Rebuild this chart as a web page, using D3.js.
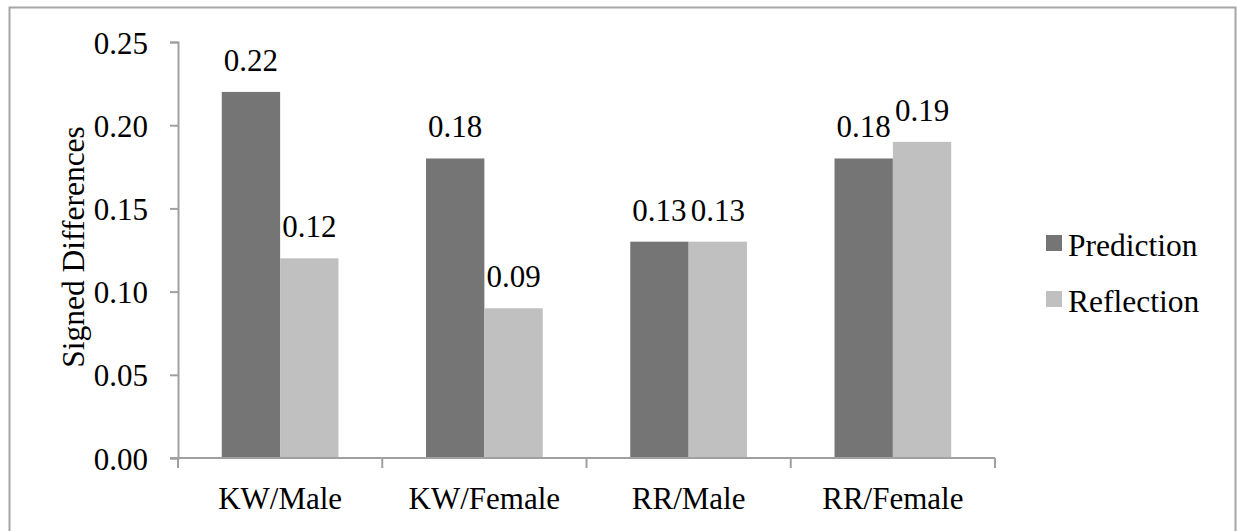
<!DOCTYPE html>
<meta charset="utf-8">
<script src="https://d3js.org/d3.v7.min.js"></script>
<style>
body { margin: 0; background: #fff; }
svg { display: block; font-family: "Liberation Serif", "Times New Roman", serif; }
.axis path, .axis line { stroke: #a0a0a0; stroke-width: 2px; }
.axis text { font-size: 31px; fill: #000; }
.barlabel { font-size: 31px; fill: #000; text-anchor: middle; }
.legend text { font-size: 31.5px; fill: #000; }
</style>
<body>
<div class="chart"></div>
<script>

// chart values
var groups = ["KW/Male", "KW/Female", "RR/Male", "RR/Female"],
    series = ["Prediction", "Reflection"],
    prediction = [0.22, 0.18, 0.13, 0.18],
    reflection = [0.12, 0.09, 0.13, 0.19],
    yTicks = [0, 0.05, 0.10, 0.15, 0.20, 0.25],
    colors = ["#757575", "#c0c0c0"];

var W = 1238, H = 531;
var margin = {top: 42, left: 178, right: 243, bottom: 73};

var svg = d3.select(".chart").append("svg")
    .attr("width", W)
    .attr("height", H);

// outer frame
svg.append("rect")
    .attr("x", 9.5).attr("y", 7.5)
    .attr("width", 1226).attr("height", 530)
    .attr("fill", "none")
    .attr("stroke", "#a6a6a6")
    .attr("stroke-width", 2);

var x = d3.scaleBand()
    .domain(groups)
    .range([margin.left, W - margin.right]);

var xs = d3.scaleBand()
    .domain(series)
    .range([0, x.bandwidth()])
    .paddingOuter(0.75)
    .paddingInner(0);

var y = d3.scaleLinear()
    .domain([0, 0.25])
    .range([H - margin.bottom, margin.top]);

var rows = groups.map(function(g, i) {
  return {group: g, values: [
    {key: "Prediction", value: prediction[i]},
    {key: "Reflection", value: reflection[i]}
  ]};
});

// y axis
var yAxis = svg.append("g")
    .attr("class", "axis")
    .attr("transform", "translate(" + margin.left + ",0)")
    .call(d3.axisLeft(y).tickValues(yTicks).tickFormat(d3.format(".2f")).tickSize(8).tickPadding(22).tickSizeOuter(8))
    .attr("font-family", null).attr("font-size", null);
yAxis.selectAll("text").attr("dy", "0.36em");

// bars
var g = svg.selectAll(".grp")
    .data(rows)
    .enter().append("g")
    .attr("class", "grp")
    .attr("transform", function(d) { return "translate(" + x(d.group) + ",0)"; });

g.selectAll("rect")
    .data(function(d) { return d.values; })
    .enter().append("rect")
    .attr("x", function(d) { return xs(d.key); })
    .attr("width", xs.bandwidth())
    .attr("y", function(d) { return y(d.value); })
    .attr("height", function(d) { return y(0) - y(d.value); })
    .attr("fill", function(d, i) { return colors[i]; });

g.selectAll(".barlabel")
    .data(function(d) { return d.values; })
    .enter().append("text")
    .attr("class", "barlabel")
    .attr("x", function(d) { return xs(d.key) + xs.bandwidth() / 2; })
    .attr("y", function(d) { return y(d.value) - 21; })
    .text(function(d) { return d.value.toFixed(2); });

// x axis (ticks at category boundaries)
var xAxis = svg.append("g")
    .attr("class", "axis")
    .attr("transform", "translate(0," + y(0) + ")");
xAxis.append("line")
    .attr("x1", margin.left - 8).attr("x2", W - margin.right)
    .attr("y1", 0).attr("y2", 0);
xAxis.selectAll(".tk")
    .data(groups.concat(["end"]))
    .enter().append("line")
    .attr("class", "tk")
    .attr("x1", function(d, i) { return margin.left + i * x.bandwidth(); })
    .attr("x2", function(d, i) { return margin.left + i * x.bandwidth(); })
    .attr("y1", 0).attr("y2", 10);
xAxis.selectAll("text")
    .data(groups)
    .enter().append("text")
    .attr("x", function(d) { return x(d) + x.bandwidth() / 2; })
    .attr("y", 51)
    .attr("text-anchor", "middle")
    .text(function(d) { return d; });

// y title
svg.append("text")
    .attr("transform", "translate(84," + (y(0.125) - 3) + ") rotate(-90)")
    .attr("text-anchor", "middle")
    .style("font-size", "31.5px")
    .text("Signed Differences");

// legend
var legend = svg.selectAll(".legend")
    .data(series)
    .enter().append("g")
    .attr("class", "legend")
    .attr("transform", function(d, i) { return "translate(1046," + (235 + i * 56) + ")"; });
legend.append("rect")
    .attr("width", 16).attr("height", 16)
    .attr("fill", function(d, i) { return colors[i]; });
legend.append("text")
    .attr("x", 22).attr("y", 21)
    .text(function(d) { return d; });

</script>
</body>
</html>
